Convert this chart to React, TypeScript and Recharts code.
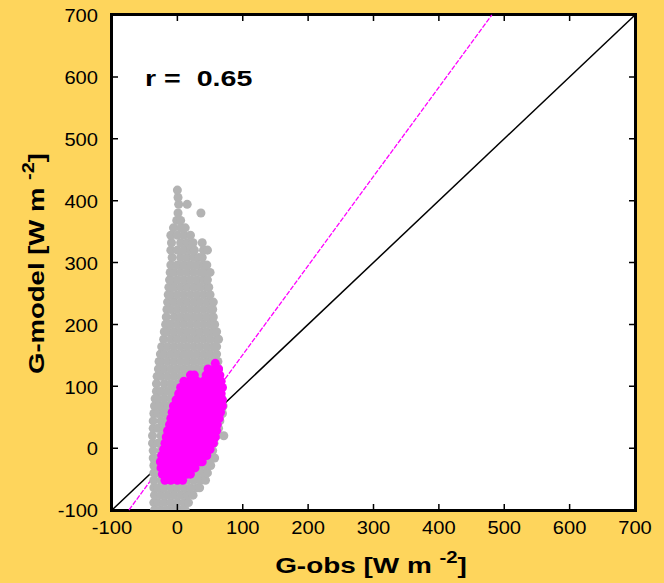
import { ScatterChart, Scatter, XAxis, YAxis, ZAxis, ReferenceLine } from 'recharts'

const xTicks = [-100, 0, 100, 200, 300, 400, 500, 600, 700]
const yTicks = [-100, 0, 100, 200, 300, 400, 500, 600, 700]

// 1:1 line and the regression fit line (end points)
const oneToOneX = [-100, 700]
const oneToOneY = [-100, 700]
const fitX = [-74, 481]
const fitY = [-100, 700]

const rValue = '0.65'

const grayRows: [number, number[]][] = [
  [-100, [-35, -25, -15, -5, 5, 12]],
  [-88, [-36, -30, -20, -10, 0, 10, 17]],
  [-76, [-35, -25, -15, -5, 5, 15, 24]],
  [-64, [-36, -30, -20, -10, 0, 10, 20, 30, 34]],
  [-52, [-36, -25, -15, -5, 5, 15, 25, 35, 43]],
  [-40, [-36, -30, -20, -10, 0, 10, 20, 30, 40, 46]],
  [-28, [-36, -25, -15, -5, 5, 15, 25, 35, 45, 51]],
  [-16, [-37, -30, -20, -10, 0, 10, 20, 30, 40, 50, 57]],
  [-4, [-37, -25, -15, -5, 5, 15, 25, 35, 45, 54]],
  [8, [-38, -30, -20, -10, 0, 10, 20, 30, 40, 50, 56]],
  [20, [-38, -25, -15, -5, 5, 15, 25, 35, 45, 55, 60, 71]],
  [32, [-37, -30, -20, -10, 0, 10, 20, 30, 40, 50, 60, 63]],
  [44, [-37, -25, -15, -5, 5, 15, 25, 35, 45, 55, 65]],
  [56, [-36, -30, -20, -10, 0, 10, 20, 30, 40, 50, 60, 69]],
  [68, [-35, -25, -15, -5, 5, 15, 25, 35, 45, 55, 65, 70]],
  [80, [-34, -30, -20, -10, 0, 10, 20, 30, 40, 50, 60, 68]],
  [92, [-32, -25, -15, -5, 5, 15, 25, 35, 45, 55, 65]],
  [104, [-32, -20, -10, 0, 10, 20, 30, 40, 50, 60, 64]],
  [116, [-31, -25, -15, -5, 5, 15, 25, 35, 45, 55, 62]],
  [128, [-29, -20, -10, 0, 10, 20, 30, 40, 50, 60, 63]],
  [140, [-28, -25, -15, -5, 5, 15, 25, 35, 45, 55, 62]],
  [152, [-26, -20, -10, 0, 10, 20, 30, 40, 50, 60]],
  [164, [-24, -15, -5, 5, 15, 25, 35, 45, 55, 60]],
  [176, [-21, -10, 0, 10, 20, 30, 40, 50, 60, 63]],
  [188, [-20, -15, -5, 5, 15, 25, 35, 45, 55, 60]],
  [200, [-18, -10, 0, 10, 20, 30, 40, 50, 57]],
  [212, [-17, -5, 5, 15, 25, 35, 45, 55]],
  [224, [-16, -10, 0, 10, 20, 30, 40, 50, 54]],
  [236, [-15, -5, 5, 15, 25, 35, 45, 55]],
  [248, [-14, -10, 0, 10, 20, 30, 40, 50]],
  [260, [-13, -5, 5, 15, 25, 35, 45, 48]],
  [272, [-12, -10, 0, 10, 20, 30, 40, 46]],
  [284, [-11, -5, 5, 15, 25, 35, 41, 50]],
  [296, [-10, 0, 10, 20, 30, 40, 45]],
  [308, [-8, 5, 15, 25, 33, 38]],
  [320, [-10, 0, 10, 20, 26, 40, 46]],
  [332, [-9, 5, 15, 24, 38]],
  [344, [-10, 0, 10, 20]],
  [356, [-6, 5, 12]],
  [368, [-1, 5]],
  [380, [1, 36]],
  [394, [2, 15]],
  [405, [1]],
  [417, [0]],
]

// selected subset (magenta)
const magentaRows: [number, number[]][] = [
  [-52, [-19, -10, 0, 8]],
  [-42, [-23, -15, -5, 5, 15, 20]],
  [-32, [-25, -20, -10, 0, 10, 20, 27]],
  [-22, [-26, -15, -5, 5, 15, 25, 35, 38]],
  [-12, [-24, -20, -10, 0, 10, 20, 30, 40, 45]],
  [-2, [-21, -15, -5, 5, 15, 25, 35, 45, 50]],
  [8, [-19, -10, 0, 10, 20, 30, 40, 50, 55]],
  [18, [-17, -15, -5, 5, 15, 25, 35, 45, 55, 58]],
  [28, [-15, -10, 0, 10, 20, 30, 40, 50, 60]],
  [38, [-12, -5, 5, 15, 25, 35, 45, 55, 61]],
  [48, [-10, 0, 10, 20, 30, 40, 50, 60, 64]],
  [58, [-8, -5, 5, 15, 25, 35, 45, 55, 66]],
  [68, [-6, 0, 10, 20, 30, 40, 50, 60, 69]],
  [78, [-2, 5, 15, 25, 35, 45, 55, 65, 69]],
  [88, [2, 10, 20, 30, 40, 50, 60, 67]],
  [98, [5, 15, 25, 35, 45, 55, 65, 69]],
  [108, [10, 20, 30, 40, 50, 60, 67]],
  [118, [20, 26, 44, 52, 60, 65]],
  [128, [47, 57, 63]],
  [137, [58]],
]

const toPoints = (rows: [number, number[]][]) =>
  rows.flatMap(([y, xs]) => xs.map((x) => ({ x, y })))

const grayData = toPoints(grayRows)
const magentaData = toPoints(magentaRows)

const FONT = '"Liberation Sans", Arial, Helvetica, sans-serif'

// plot box in pixels (frame only)
const BOX = { left: 112, top: 15, right: 635, bottom: 510 }

const XTick = (p: any) => (
  <g>
    <path d={`M${p.x},${BOX.bottom}V${BOX.bottom - 6}M${p.x},${BOX.top}V${BOX.top + 6}`} stroke="#000" strokeWidth={1.5} fill="none" />
    <text transform={`translate(${p.x},${p.y}) scale(1.15,1)`} textAnchor="middle" dy="0.71em" fontSize={17.5} fill="#000">
      {p.payload.value}
    </text>
  </g>
)

const YTick = (p: any) => (
  <g>
    <path d={`M${BOX.left},${p.y}H${BOX.left + 6}M${BOX.right},${p.y}H${BOX.right - 6}`} stroke="#000" strokeWidth={1.5} fill="none" />
    <text transform={`translate(${p.x},${p.y}) scale(1.15,1)`} textAnchor="end" dy="0.42em" fontSize={17.5} fill="#000">
      {p.payload.value}
    </text>
  </g>
)

export default function App() {
  return (
    <div style={{ position: 'absolute', left: 0, top: 0, width: 664, height: 583, background: '#FED55C' }}>
      <div
        style={{
          position: 'absolute',
          left: BOX.left,
          top: BOX.top,
          width: BOX.right - BOX.left,
          height: BOX.bottom - BOX.top,
          background: '#fff',
          outline: '2px solid #000',
        }}
      />
      <div style={{ position: 'absolute', left: 0, top: 0 }}>
        <ScatterChart width={664} height={583} margin={{ top: 15, right: 29, bottom: 0, left: 0 }} style={{ fontFamily: FONT }}>
          <ZAxis range={[64, 64]} />
          <XAxis
            dataKey="x"
            type="number"
            domain={[-100, 700]}
            ticks={xTicks}
            allowDataOverflow
            height={73}
            tickSize={0}
            tickMargin={12}
            axisLine={false}
            tickLine={false}
            tick={XTick}
          />
          <YAxis
            dataKey="y"
            type="number"
            domain={[-100, 700]}
            ticks={yTicks}
            allowDataOverflow
            width={112}
            tickSize={0}
            tickMargin={14}
            axisLine={false}
            tickLine={false}
            tick={YTick}
          />
          <Scatter data={grayData} fill="#B3B3B3" isAnimationActive={false} />
          <Scatter data={magentaData} fill="#FF00FF" isAnimationActive={false} />
          <ReferenceLine
            segment={[{ x: fitX[0], y: fitY[0] }, { x: fitX[1], y: fitY[1] }]}
            stroke="#FF00FF"
            strokeWidth={1.3}
            strokeDasharray="5 1.5"
          />
          <ReferenceLine
            segment={[{ x: oneToOneX[0], y: oneToOneY[0] }, { x: oneToOneX[1], y: oneToOneY[1] }]}
            stroke="#000"
            strokeWidth={1.5}
          />
          <text transform="translate(145,86) scale(1.3,1)" fontSize={22} fontWeight="bold" fill="#000" style={{ whiteSpace: 'pre' }}>
            {`r =  ${rValue}`}
          </text>
          <text transform="translate(371,573) scale(1.27,1)" textAnchor="middle" fontSize={22} fontWeight="bold" fill="#000" style={{ whiteSpace: 'pre' }}>
            {'G-obs [W m '}
            <tspan dy={-10} fontSize={16}>-2</tspan>
            <tspan dy={10}>]</tspan>
          </text>
          <text transform="translate(44,263.5) rotate(-90) scale(1.25,1)" textAnchor="middle" fontSize={22} fontWeight="bold" fill="#000" style={{ whiteSpace: 'pre' }}>
            {'G-model [W m '}
            <tspan dy={-10} fontSize={16}>-2</tspan>
            <tspan dy={10}>]</tspan>
          </text>
          <rect
            x={BOX.left}
            y={BOX.top}
            width={BOX.right - BOX.left}
            height={BOX.bottom - BOX.top}
            fill="none"
            stroke="#000000"
            strokeWidth={2}
          />
        </ScatterChart>
      </div>
    </div>
  )
}
